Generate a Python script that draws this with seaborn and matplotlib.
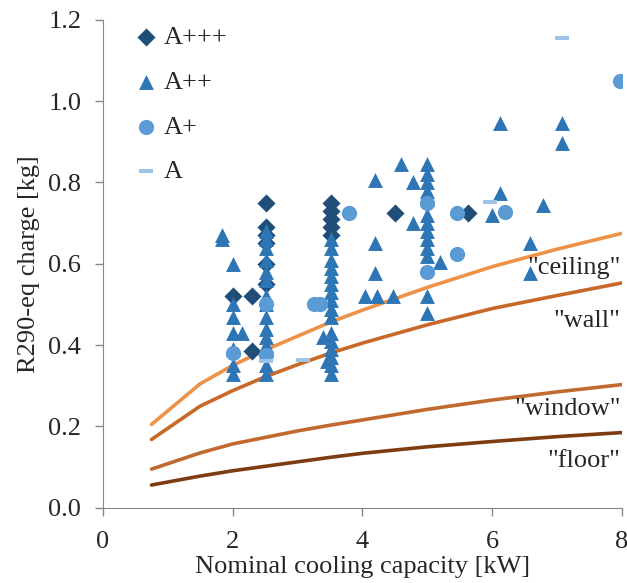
import numpy as np
import pandas as pd
import matplotlib
matplotlib.use("Agg")
import matplotlib.pyplot as plt
import seaborn as sns

# ==============================
# datos

# curvas limite de carga (ubicacion de la unidad interior)
cap_curva = [0.75, 1.5, 2.0, 2.5, 3.0, 3.5, 4.0, 5.0, 6.0, 7.0, 8.0]
carga_ceiling = [0.205, 0.305, 0.35, 0.388, 0.422, 0.456, 0.486, 0.542, 0.593, 0.636, 0.675]
carga_wall = [0.168, 0.25, 0.288, 0.322, 0.352, 0.38, 0.405, 0.45, 0.49, 0.522, 0.553]
carga_window = [0.095, 0.135, 0.157, 0.173, 0.189, 0.203, 0.216, 0.242, 0.265, 0.285, 0.303]
carga_floor = [0.056, 0.078, 0.091, 0.102, 0.113, 0.124, 0.134, 0.15, 0.163, 0.175, 0.185]

# equipos por clase energetica
x_a3 = [2.0, 2.3, 2.3, 2.52, 2.52, 2.52, 2.52, 2.52, 2.52, 3.52, 3.52, 3.52, 3.52, 3.52, 4.5, 5.62]
y_a3 = [0.52, 0.52, 0.385, 0.75, 0.69, 0.67, 0.65, 0.60, 0.55, 0.75, 0.73, 0.71, 0.69, 0.67, 0.725, 0.725]

x_a2 = [1.83, 1.83,
        2.0, 2.0, 2.0, 2.0, 2.0, 2.0, 2.0, 2.14,
        2.52, 2.52, 2.52, 2.52, 2.52, 2.52, 2.52, 2.52, 2.52, 2.52, 2.52, 2.52, 2.52, 2.52,
        3.52, 3.52, 3.52, 3.52, 3.52, 3.52, 3.52, 3.52, 3.52, 3.52, 3.52, 3.52, 3.52, 3.52, 3.52, 3.52,
        3.4, 3.45,
        4.19, 4.19, 4.19, 4.04, 4.22, 4.47, 4.6, 4.78, 4.78,
        5.0, 5.0, 5.0, 5.0, 5.0, 5.0, 5.0, 5.0, 5.0, 5.0, 5.0, 5.0, 5.0,
        5.19, 6.0, 6.12, 6.12, 6.58, 6.58, 6.78, 7.07, 7.07]
y_a2 = [0.67, 0.66,
        0.60, 0.50, 0.47, 0.43, 0.39, 0.35, 0.33, 0.43,
        0.68, 0.66, 0.64, 0.61, 0.58, 0.56, 0.52, 0.50, 0.47, 0.44, 0.42, 0.40, 0.35, 0.33,
        0.66, 0.64, 0.61, 0.59, 0.57, 0.55, 0.53, 0.51, 0.49, 0.47, 0.43, 0.41, 0.39, 0.37, 0.35, 0.33,
        0.42, 0.36,
        0.807, 0.65, 0.578, 0.52, 0.52, 0.52, 0.845, 0.80, 0.70,
        0.845, 0.82, 0.80, 0.78, 0.76, 0.72, 0.70, 0.68, 0.66, 0.64, 0.62, 0.52, 0.48,
        0.605, 0.72, 0.775, 0.947, 0.652, 0.578, 0.745, 0.947, 0.897]

x_a1 = [2.0, 2.52, 2.52, 3.25, 3.35, 3.79, 5.0, 5.0, 5.45, 5.45, 6.2, 7.97]
y_a1 = [0.38, 0.50, 0.375, 0.50, 0.50, 0.725, 0.75, 0.58, 0.725, 0.625, 0.727, 1.05]

x_a0 = [2.52, 3.08, 5.96, 7.07]
y_a0 = [0.362, 0.364, 0.752, 1.155]

# ==============================
# armado de tablas

df_pts = pd.concat([
    pd.DataFrame({"cap": x_a3, "carga": y_a3, "clase": "A+++"}),
    pd.DataFrame({"cap": x_a2, "carga": y_a2, "clase": "A++"}),
    pd.DataFrame({"cap": x_a1, "carga": y_a1, "clase": "A+"}),
    pd.DataFrame({"cap": x_a0, "carga": y_a0, "clase": "A"}),
], ignore_index=True)

df_lin = pd.concat([
    pd.DataFrame({"cap": cap_curva, "carga": carga_ceiling, "ubic": "ceiling"}),
    pd.DataFrame({"cap": cap_curva, "carga": carga_wall, "ubic": "wall"}),
    pd.DataFrame({"cap": cap_curva, "carga": carga_window, "ubic": "window"}),
    pd.DataFrame({"cap": cap_curva, "carga": carga_floor, "ubic": "floor"}),
], ignore_index=True)

colores_pts = {"A+++": "#1F4E79", "A++": "#2E75B6", "A+": "#5B9BD5", "A": "#9DC3E6"}
rect = [(-1, -0.3), (1, -0.3), (1, 0.3), (-1, 0.3), (-1, -0.3)]  # marca tipo guion
marcas = {"A+++": "D", "A++": "^", "A+": "o", "A": rect}
tam = {"A+++": 85, "A++": 115, "A+": 120, "A": 110}
colores_lin = {"ceiling": "#EE9248", "wall": "#C8692A", "window": "#C06A30", "floor": "#7E3C12"}

fs = 19  # tamano de letra general

# ==============================
# grafico

sns.set_style("ticks")
plt.rcParams["font.family"] = ["Liberation Serif", "DejaVu Serif"]

fig = plt.figure(figsize=(6.27, 5.83), dpi=100)
ax = fig.add_axes([0.164, 0.129, 0.828, 0.837])

sns.lineplot(data=df_lin, x="cap", y="carga", hue="ubic", palette=colores_lin,
             linewidth=2.6, legend=False, ax=ax, sort=False, estimator=None)

for clase in ["A+++", "A++", "A+", "A"]:
    sub = df_pts[df_pts["clase"] == clase]
    sns.scatterplot(data=sub, x="cap", y="carga", color=colores_pts[clase],
                    marker=marcas[clase], s=tam[clase], linewidth=0, label=clase,
                    ax=ax, zorder=3)

# textos de ubicacion
ax.text(7.98, 0.59, '"ceiling"', ha="right", va="center", fontsize=fs)
ax.text(7.98, 0.46, '"wall"', ha="right", va="center", fontsize=fs)
ax.text(7.98, 0.243, '"window"', ha="right", va="center", fontsize=fs)
ax.text(7.98, 0.115, '"floor"', ha="right", va="center", fontsize=fs)

ax.set_xlim(0, 8)
ax.set_ylim(0, 1.2)
ax.set_xticks([0, 2, 4, 6, 8])
ax.set_yticks(np.arange(0, 1.21, 0.2))
ax.set_yticklabels([f"{v:.1f}" for v in np.arange(0, 1.21, 0.2)])
ax.tick_params(labelsize=fs, color="#888888", length=6, width=1)
ax.tick_params(axis="x", pad=11)
ax.tick_params(axis="y", pad=9.5)
ax.set_xlabel("Nominal cooling capacity [kW]", fontsize=fs, labelpad=2)
ax.set_ylabel("R290-eq charge [kg]", fontsize=fs, labelpad=6)
sns.despine(ax=ax)
for lado in ["left", "bottom"]:
    ax.spines[lado].set_color("#888888")
    ax.spines[lado].set_clip_on(False)

ax.legend(loc="upper left", bbox_to_anchor=(0.028, 1.02), frameon=False,
          fontsize=fs, labelspacing=0.8, handlelength=1.0, handletextpad=0.15,
          borderaxespad=0.2)

fig.savefig("out.png", dpi=100)
